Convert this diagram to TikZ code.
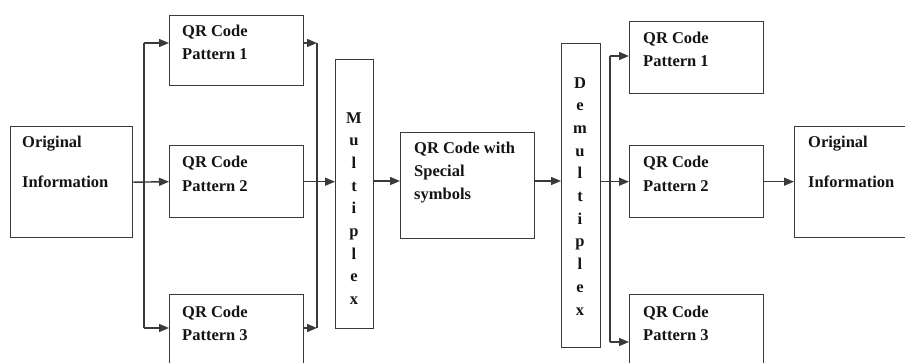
\documentclass[tikz,border=0pt]{standalone}
\usepackage{fontspec}
\setmainfont{Liberation Serif}
\usetikzlibrary{arrows.meta}
\definecolor{linec}{HTML}{3A3A3A}
\definecolor{txtc}{HTML}{141414}
\tikzset{
  x=1pt, y=1pt,
  blk/.style={draw=linec, line width=1.4pt, rectangle, anchor=north west, inner sep=0pt},
  % multi-line labels are placed by the baseline of their last line
  lbl/.style={anchor=base west, align=left, inner sep=0pt, text=txtc,
              font=\fontsize{16.5}{23}\selectfont\bfseries},
  widelbl/.style={lbl, font=\fontsize{16.5}{39}\selectfont\bfseries},
  vlbl/.style={anchor=base, align=center, inner sep=0pt, text=txtc,
               font=\fontsize{16.5}{22.7}\selectfont\bfseries},
  wire/.style={draw=linec, line width=1.4pt},
  arr/.style={wire, -{Triangle[length=10pt,width=8pt]}},
}
\begin{document}
\begin{tikzpicture}
\useasboundingbox (0,0) rectangle (905,362);
\clip (0,0) rectangle (905,362);

% boxes (y measured downward from the top edge, hence 362-y)
\node[blk, minimum width=122pt, minimum height=111pt] (oiL) at (10,362-126) {};
\node[blk, minimum width=134pt, minimum height=70pt]  (p1L) at (169,362-15) {};
\node[blk, minimum width=134pt, minimum height=72pt]  (p2L) at (169,362-145) {};
\node[blk, minimum width=134pt, minimum height=95pt]  (p3L) at (169,362-294) {};
\node[blk, minimum width=38pt,  minimum height=269pt] (mux) at (335,362-59) {};
\node[blk, minimum width=134pt, minimum height=106pt] (spc) at (400,362-132) {};
\node[blk, minimum width=39pt,  minimum height=304pt] (dmx) at (561,362-43) {};
\node[blk, minimum width=134pt, minimum height=72pt]  (p1R) at (629,362-21) {};
\node[blk, minimum width=134pt, minimum height=72pt]  (p2R) at (629,362-145) {};
\node[blk, minimum width=134pt, minimum height=95pt]  (p3R) at (629,362-294) {};
\node[blk, minimum width=140pt, minimum height=111pt] (oiR) at (794,362-126) {};

% texts
\node[widelbl] (toiL) at (22,362-187) {Original\\Information};
\node[lbl] (tp1L) at (182,362-60) {QR Code\\Pattern 1};
\node[lbl] (tp2L) at (182,362-191) {QR Code\\Pattern 2};
\node[lbl] (tp3L) at (182,362-340) {QR Code\\Pattern 3};
\node[vlbl] (tmux) at (354,362-304.6) {M\\u\\l\\t\\i\\p\\l\\e\\x};
\node[lbl] (tspc) at (414,362-200) {QR Code with\\Special\\symbols};
\node[vlbl] (tdmx) at (580,362-315) {D\\e\\m\\u\\l\\t\\i\\p\\l\\e\\x};
\node[lbl] (tp1R) at (643,362-67) {QR Code\\Pattern 1};
\node[lbl] (tp2R) at (643,362-191) {QR Code\\Pattern 2};
\node[lbl] (tp3R) at (643,362-340) {QR Code\\Pattern 3};
\node[widelbl] (toiR) at (808,362-187) {Original\\Information};

% junction points of the fan-out and fan-in buses
\coordinate (fa) at (144,362-43);
\coordinate (fb) at (144,362-328);
\coordinate (ja) at (317,362-43);
\coordinate (jb) at (317,362-328);
\coordinate (ka) at (610,362-56);
\coordinate (kb) at (610,362-342);
\coordinate (mainL) at (373,362-181);
\coordinate (mainR) at (534,362-181);

% original information split into three patterns
\draw[arr] (oiL.east) -- (p2L.west);
\draw[wire] (fa) -- (fb);
\draw[arr] (fa) -- (fa -| p1L.west);
\draw[arr] (fb) -- (fb -| p3L.west);

% patterns gathered into the multiplexer
\draw[arr] (ja -| p1L.east) -- (ja);
\draw[arr] (jb -| p3L.east) -- (jb);
\draw[wire] (ja) -- (jb);
\draw[arr] (p2L.east) -- (p2L.east -| mux.west);

% multiplexer -> combined code -> demultiplexer
\draw[arr] (mainL) -- (mainL -| spc.west);
\draw[arr] (mainR) -- (mainR -| dmx.west);

% demultiplexer split into three patterns
\draw[arr] (dmx.east |- p2R.west) -- (p2R.west);
\draw[wire] (ka) -- (kb);
\draw[arr] (ka) -- (ka -| p1R.west);
\draw[arr] (kb) -- (kb -| p3R.west);

% recovered information
\draw[arr] (p2R.east) -- (p2R.east -| oiR.west);
\end{tikzpicture}
\end{document}
